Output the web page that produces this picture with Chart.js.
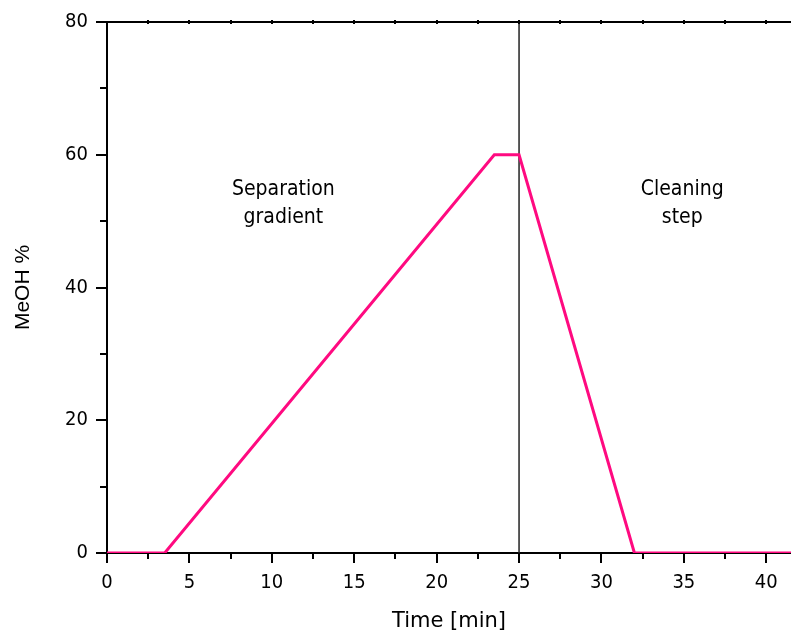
<!DOCTYPE html>
<html>
<head>
<meta charset="utf-8">
<script src="https://cdn.jsdelivr.net/npm/chart.js@4/dist/chart.umd.min.js"></script>
<style>
  html, body { margin: 0; padding: 0; background: #fff; }
  #wrap { width: 791px; height: 634px; }
</style>
</head>
<body>
<div id="wrap"><canvas id="gradientChart" width="791" height="634"></canvas></div>
<script>
// gradient profile (time in min, MeOH in %)
const timePoints = [0, 3.5, 23.5, 25, 32, 41.5];
const meohValues = [0, 0, 60, 60, 0, 0];
// boundary between the two phases
const markerTime = 25;
const markerRange = [0, 80];
// text labels in the plot
const noteLines = [["Separation", "gradient"], ["Cleaning", "step"]];
const noteTimes = [10.7, 34.9];
const noteLevels = [54.7, 50.5];

const tickFont = '"DejaVu Sans Condensed", "DejaVu Sans", sans-serif';

const axisMarks = {
  id: "axisMarks",
  afterDraw(chart) {
    const ctx = chart.ctx;
    const x = chart.scales.x, y = chart.scales.y;
    const area = chart.chartArea;
    ctx.save();
    ctx.strokeStyle = "#000";
    ctx.lineWidth = 2;
    ctx.beginPath();
    // top frame line
    ctx.moveTo(area.left - 11, area.top);
    ctx.lineTo(area.right, area.top);
    for (let v = 0; v <= 41.5; v += 2.5) {
      const px = Math.round(x.getPixelForValue(v));
      const len = v % 5 === 0 ? 10 : 6;
      ctx.moveTo(px, area.bottom);
      ctx.lineTo(px, area.bottom + len);
    }
    for (let v = 0; v <= 80; v += 10) {
      const py = Math.round(y.getPixelForValue(v));
      const len = v % 20 === 0 ? 11 : 7;
      ctx.moveTo(area.left, py);
      ctx.lineTo(area.left - len, py);
    }
    ctx.stroke();
    // small marks along the top line
    ctx.beginPath();
    for (let v = 2.5; v <= 41.5; v += 2.5) {
      const px = Math.round(x.getPixelForValue(v));
      ctx.moveTo(px, area.top - 2);
      ctx.lineTo(px, area.top + 2);
    }
    ctx.stroke();
    // notes
    ctx.fillStyle = "#000";
    ctx.font = '21px ' + tickFont;
    ctx.textAlign = "center";
    ctx.textBaseline = "middle";
    noteLines.forEach((lines, i) => {
      const px = x.getPixelForValue(noteTimes[i]);
      ctx.fillText(lines[0], px, y.getPixelForValue(noteLevels[0]));
      ctx.fillText(lines[1], px, y.getPixelForValue(noteLevels[1]));
    });
    ctx.restore();
  }
};

const ctx = document.getElementById("gradientChart").getContext("2d");
new Chart(ctx, {
  type: "scatter",
  data: {
    datasets: [
      {
        data: timePoints.map((t, i) => ({ x: t, y: meohValues[i] })),
        showLine: true,
        borderColor: "#ff0a80",
        borderWidth: 3,
        pointRadius: 0,
        tension: 0
      },
      {
        data: markerRange.map(v => ({ x: markerTime, y: v })),
        showLine: true,
        borderColor: "#222",
        borderWidth: 1.5,
        pointRadius: 0
      }
    ]
  },
  options: {
    responsive: false,
    animation: false,
    layout: { padding: { left: 0, right: 0, top: 22, bottom: 0 } },
    plugins: { legend: { display: false }, tooltip: { enabled: false } },
    scales: {
      x: {
        type: "linear",
        min: 0,
        max: 41.5,
        afterFit(scale) {
          scale.height = 81;
          scale.paddingLeft = 0;
          scale.paddingRight = 0;
        },
        grid: { display: false, drawTicks: false },
        border: { display: true, color: "#000", width: 2 },
        ticks: {
          stepSize: 2.5,
          includeBounds: false,
          autoSkip: false,
          maxRotation: 0,
          padding: 18,
          color: "#000",
          font: { family: tickFont, size: 20 },
          callback: v => (v % 5 === 0 ? v : "")
        },
        title: {
          display: true,
          text: "Time [min]",
          color: "#000",
          font: { family: '"DejaVu Sans", sans-serif', size: 21 },
          padding: { top: 0, bottom: 0 }
        }
      },
      y: {
        min: 0,
        max: 80,
        afterFit(scale) {
          scale.width = 107;
          scale.paddingTop = 0;
          scale.paddingBottom = 0;
        },
        grid: { display: false, drawTicks: false },
        border: { display: true, color: "#000", width: 2 },
        ticks: {
          stepSize: 10,
          autoSkip: false,
          padding: 19,
          color: "#000",
          font: { family: tickFont, size: 20 },
          callback: v => (v % 20 === 0 ? v : "")
        },
        title: {
          display: true,
          text: "MeOH %",
          color: "#000",
          font: { family: '"Liberation Sans", Arial, sans-serif', size: 21 },
          padding: { top: 11, bottom: 0 }
        }
      }
    }
  },
  plugins: [axisMarks]
});
</script>
</body>
</html>
